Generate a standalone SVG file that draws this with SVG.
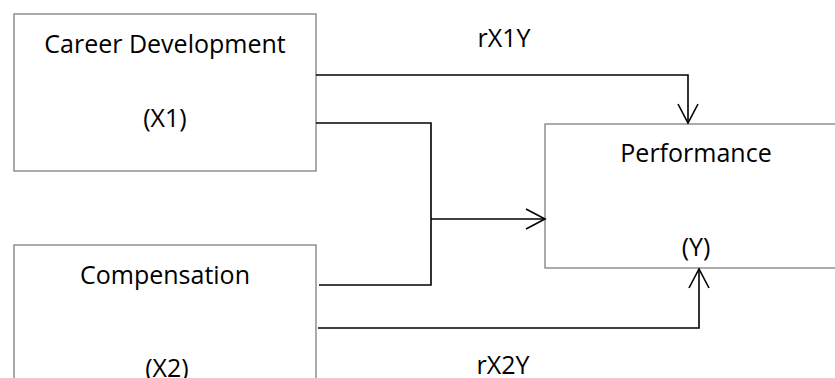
<svg xmlns="http://www.w3.org/2000/svg" width="835" height="378" viewBox="0 0 835 378">
  <style>
    .box { fill: #ffffff; stroke: #7f7f7f; stroke-width: 1.3; }
    .t { font-family: "Open Sans", "Liberation Sans", sans-serif; font-size: 25px; fill: #000000; text-anchor: middle; }
    .c { fill: none; stroke: #000000; stroke-width: 1.6; }
  </style>
  <defs>
    <marker id="arr" markerUnits="userSpaceOnUse" markerWidth="22" markerHeight="22" viewBox="0 0 22 22" refX="20" refY="11" orient="auto" overflow="visible">
      <path d="M1,1 L20,11 L1,21" fill="none" stroke="#000000" stroke-width="1.6"/>
    </marker>
  </defs>
  <rect width="835" height="378" fill="#ffffff"/>
  <g id="node-x1">
    <rect class="box" x="14" y="14" width="302" height="157"/>
    <text class="t" x="165" y="53">Career Development</text>
    <text class="t" x="165" y="127">(X1)</text>
  </g>
  <g id="node-x2">
    <rect class="box" x="14" y="245" width="302" height="160"/>
    <text class="t" x="165" y="284">Compensation</text>
    <text class="t" x="167" y="377">(X2)</text>
  </g>
  <g id="node-y">
    <rect class="box" x="545" y="124" width="320" height="144"/>
    <text class="t" x="696" y="162">Performance</text>
    <text class="t" x="696" y="256">(Y)</text>
  </g>
  <g id="connectors">
    <path class="c" d="M316,75 H688 V123" marker-end="url(#arr)"/>
    <path class="c" d="M316,123 H431 V285 H319"/>
    <path class="c" d="M431,219 H545" marker-end="url(#arr)"/>
    <path class="c" d="M318,328 H699 V269" marker-end="url(#arr)"/>
    <text class="t" x="504" y="47">rX1Y</text>
    <text class="t" x="503" y="374">rX2Y</text>
  </g>
</svg>
